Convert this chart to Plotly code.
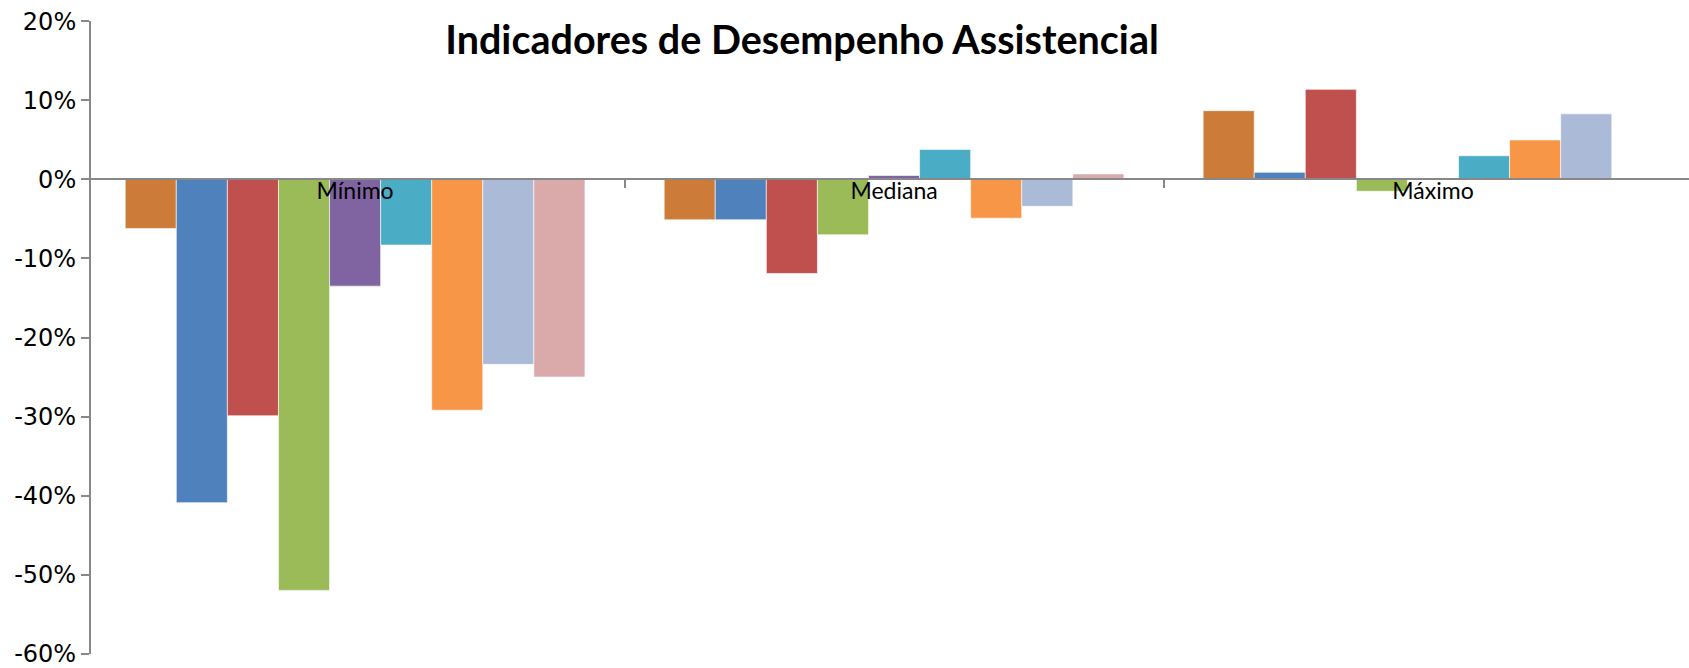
import plotly.graph_objects as go

categories = ["Mínimo", "Mediana", "Máximo"]
series_names = ["Indicador 1", "Indicador 2", "Indicador 3", "Indicador 4", "Indicador 5",
                "Indicador 6", "Indicador 7", "Indicador 8", "Indicador 9"]
series_values = [
    [-0.062, -0.051, 0.087],
    [-0.409, -0.051, 0.009],
    [-0.299, -0.119, 0.114],
    [-0.520, -0.070, -0.015],
    [-0.135, 0.005, None],
    [-0.083, 0.038, 0.030],
    [-0.292, -0.049, 0.050],
    [-0.234, -0.034, 0.083],
    [-0.250, 0.007, None],
]
colors = ["#CC7B38", "#4F81BD", "#C0504D", "#9BBB59", "#8064A2",
          "#4BACC6", "#F79646", "#AABAD7", "#DAA9A9"]
y_tickvals = [0.2, 0.1, 0.0, -0.1, -0.2, -0.3, -0.4, -0.5, -0.6]
y_ticktext = ["20%", "10%", "0%", "-10%", "-20%", "-30%", "-40%", "-50%", "-60%"]
title_text = "Indicadores de Desempenho Assistencial"

fig = go.Figure()
for name, vals, col in zip(series_names, series_values, colors):
    fig.add_trace(go.Bar(
        x=categories, y=vals, name=name,
        marker=dict(color=col, line=dict(color="rgba(255,255,255,0.6)", width=1)),
    ))

ymin, ymax = -0.6, 0.2
fig.update_layout(
    width=1689, height=668,
    margin=dict(l=91, r=0, t=21, b=14, autoexpand=False),
    paper_bgcolor="white", plot_bgcolor="white",
    barmode="group", bargap=0.147, bargroupgap=0,
    showlegend=False,
    title=dict(text="<b>" + title_text + "</b>", x=802 / 1689, xanchor="center",
               y=1 - 40 / 668, yanchor="middle",
               font=dict(family="Lato, Open Sans, sans-serif", size=39.5, color="black")),
    xaxis=dict(
        type="category", range=[-0.49, 2.475], automargin=False,
        anchor="free", position=(0 - ymin) / (ymax - ymin),
        showline=True, linecolor="#888888", linewidth=2,
        ticks="outside", tickson="boundaries", ticklen=8, tickcolor="#888888", tickwidth=2,
        ticklabelstandoff=-9,
        showgrid=False, zeroline=False,
        tickfont=dict(family="Lato, Open Sans, sans-serif", size=23, color="black"),
    ),
    yaxis=dict(
        range=[ymin - 0.0005, ymax + 0.0005], tickvals=y_tickvals, ticktext=y_ticktext,
        automargin=False, ticklabeloverflow="allow",
        showline=True, linecolor="#888888", linewidth=2,
        ticks="outside", ticklen=8, tickcolor="#888888", tickwidth=2,
        showgrid=False, zeroline=False,
        tickfont=dict(family="DejaVu Sans, Verdana, sans-serif", size=24, color="black"),
    ),
)

fig.write_html(
    "out.html",
    config={"displayModeBar": False},
    post_script="document.body.style.margin='0';document.body.style.overflow='hidden';",
)
